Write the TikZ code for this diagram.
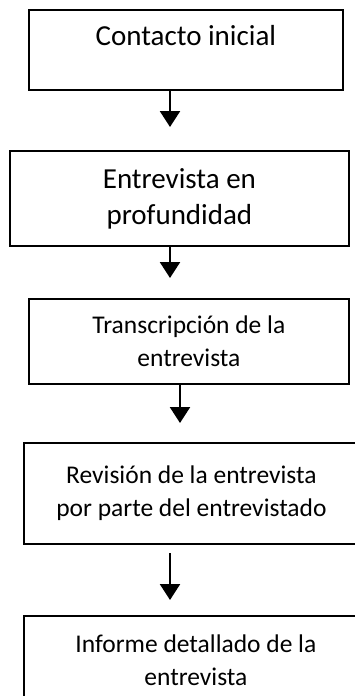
\documentclass[tikz,border=0pt]{standalone}
\usepackage{fontspec}
\setmainfont{Carlito}
\usetikzlibrary{arrows.meta}

\begin{document}
\begin{tikzpicture}[
    x=1pt, y=-1pt,
    >={Triangle[width=20pt,length=16pt]},
    caja/.style   = {draw, rectangle, line width=1.8pt, anchor=north west, align=center, inner sep=0pt},
    grande/.style = {font=\fontsize{29}{36}\selectfont},
    chica/.style  = {font=\fontsize{25.5}{33}\selectfont},
    flecha/.style = {->, line width=2.4pt},
  ]
	\useasboundingbox (0,0) rectangle (354,696);
	
	% Kästen
	\node (c1) at (28,9)  [caja, grande, minimum width=314pt, minimum height=80pt, text height=36pt, text depth=44pt] {Contacto inicial};
	\node (c2) at (9,150) [caja, grande, minimum width=339pt, minimum height=95pt] {Entrevista en\\profundidad};
	\node (c3) at (28,298) [caja, chica, minimum width=320pt, minimum height=85pt] {Transcripción de la\\entrevista};
	\node (c4) at (23,442) [caja, chica, minimum width=335pt, minimum height=101pt] {Revisión de la entrevista\\por parte del entrevistado};
	\node (c5) at (23,615) [caja, chica, minimum width=344pt, minimum height=88pt] {Informe detallado de la\\entrevista};
	
	% Pfeilspitzen
	\coordinate (p1) at (170,127);
	\coordinate (p2) at (170,278);
	\coordinate (p3) at (180,423);
	\coordinate (q4) at (170,553);
	\coordinate (p4) at (170,600);
	
	% Pfeile
	\draw[flecha] (c1.south -| p1) -- (p1);
	\draw[flecha] (c2.south -| p2) -- (p2);
	\draw[flecha] (c3.south -| p3) -- (p3);
	\draw[flecha] (q4) -- (p4);
\end{tikzpicture}
\end{document}
